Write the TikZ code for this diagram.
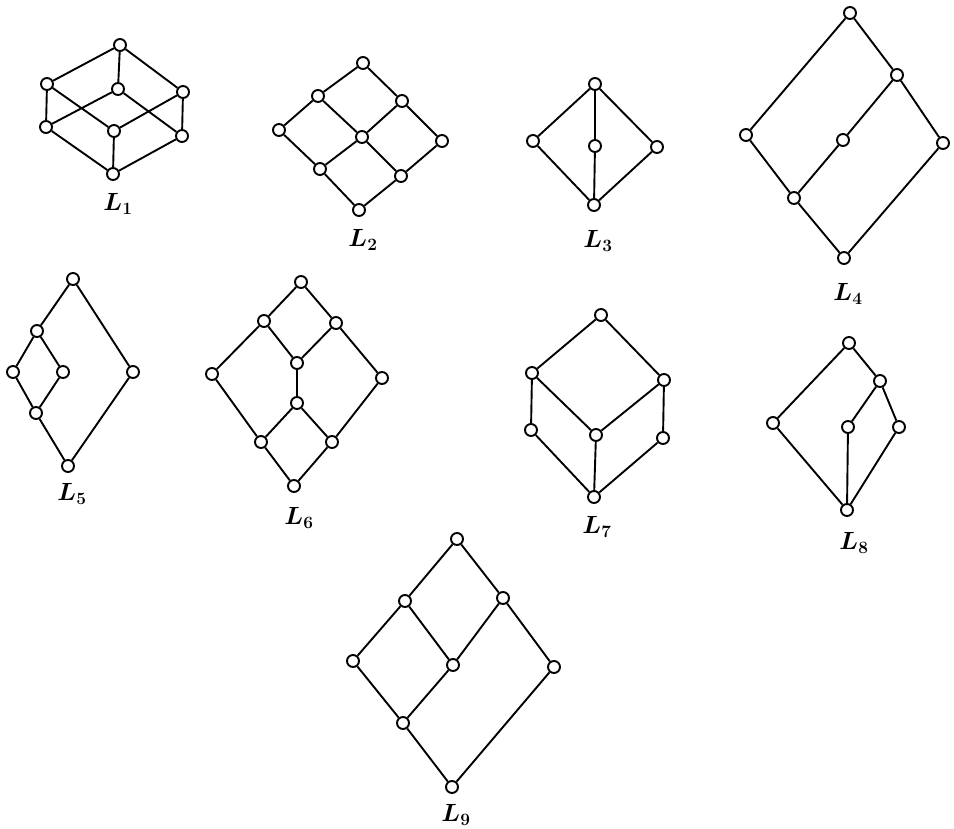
\documentclass[tikz,border=0pt]{standalone}
\usepackage{amsmath, amssymb}
\usepackage{tikz}
\usetikzlibrary{positioning}

\tikzset{
  vtx/.style={circle, draw, line width=1.9pt, fill=white, minimum size=12pt, inner sep=0pt},
  edge/.style={line width=1.9pt},
  lbl/.style={font=\fontsize{23}{26}\selectfont, inner sep=0pt}
}
\newcommand{\lname}[1]{$\boldsymbol{L}_{\mathbf{#1}}$}

\begin{document}
\begin{tikzpicture}[x=1pt, y=-1pt]
  \useasboundingbox (0,0) rectangle (954,829);
  % L1
  \node[vtx] (a1) at (120,45) {};
  \node[vtx] (a2) at (47,84) {};
  \node[vtx] (a3) at (118,89) {};
  \node[vtx] (a4) at (183,92) {};
  \node[vtx] (a5) at (46,127) {};
  \node[vtx] (a6) at (114,131) {};
  \node[vtx] (a7) at (182,136) {};
  \node[vtx] (a8) at (113,174) {};
  \draw[edge] (a1) -- (a2) (a1) -- (a3) (a1) -- (a4)
    (a2) -- (a5) (a2) -- (a6) (a3) -- (a5) (a3) -- (a7)
    (a4) -- (a6) (a4) -- (a7)
    (a5) -- (a8) (a6) -- (a8) (a7) -- (a8);
  \node[lbl] (n1) at (118,204) {\lname{1}};
  % L2
  \node[vtx] (b1) at (363,63) {};
  \node[vtx] (b2) at (318,96) {};
  \node[vtx] (b3) at (402,101) {};
  \node[vtx] (b4) at (279,130) {};
  \node[vtx] (b5) at (362,137) {};
  \node[vtx] (b6) at (442,141) {};
  \node[vtx] (b7) at (320,169) {};
  \node[vtx] (b8) at (401,176) {};
  \node[vtx] (b9) at (359,210) {};
  \draw[edge] (b1) -- (b2) (b1) -- (b3) (b2) -- (b4) (b2) -- (b5)
    (b3) -- (b5) (b3) -- (b6) (b4) -- (b7) (b5) -- (b7)
    (b5) -- (b8) (b6) -- (b8) (b7) -- (b9) (b8) -- (b9);
  \node[lbl] (n2) at (363,240) {\lname{2}};
  % L3
  \node[vtx] (c1) at (595,84) {};
  \node[vtx] (c2) at (533,141) {};
  \node[vtx] (c3) at (595,146) {};
  \node[vtx] (c4) at (657,147) {};
  \node[vtx] (c5) at (594,205) {};
  \draw[edge] (c1) -- (c2) (c1) -- (c3) (c1) -- (c4)
    (c2) -- (c5) (c3) -- (c5) (c4) -- (c5);
  \node[lbl] (n3) at (598,241) {\lname{3}};
  % L4
  \node[vtx] (d1) at (850,13) {};
  \node[vtx] (d2) at (897,75) {};
  \node[vtx] (d3) at (746,135) {};
  \node[vtx] (d4) at (843,140) {};
  \node[vtx] (d5) at (943,143) {};
  \node[vtx] (d6) at (794,198) {};
  \node[vtx] (d7) at (844,258) {};
  \draw[edge] (d1) -- (d3) (d1) -- (d2) (d2) -- (d4) (d2) -- (d5)
    (d3) -- (d6) (d4) -- (d6) (d6) -- (d7) (d5) -- (d7);
  \node[lbl] (n4) at (848,294) {\lname{4}};
  % L5
  \node[vtx] (e1) at (73,279) {};
  \node[vtx] (e2) at (37,331) {};
  \node[vtx] (e3) at (13,372) {};
  \node[vtx] (e4) at (63,372) {};
  \node[vtx] (e5) at (133,372) {};
  \node[vtx] (e6) at (36,413) {};
  \node[vtx] (e7) at (68,466) {};
  \draw[edge] (e1) -- (e2) (e1) -- (e5) (e2) -- (e3) (e2) -- (e4)
    (e3) -- (e6) (e4) -- (e6) (e6) -- (e7) (e5) -- (e7);
  \node[lbl] (n5) at (72,494) {\lname{5}};
  % L6
  \node[vtx] (f1) at (301,282) {};
  \node[vtx] (f2) at (264,321) {};
  \node[vtx] (f3) at (336,323) {};
  \node[vtx] (f4) at (212,374) {};
  \node[vtx] (f5) at (297,363) {};
  \node[vtx] (f6) at (382,378) {};
  \node[vtx] (f7) at (297,403) {};
  \node[vtx] (f8) at (261,442) {};
  \node[vtx] (f9) at (332,442) {};
  \node[vtx] (f10) at (294,486) {};
  \draw[edge] (f1) -- (f2) (f1) -- (f3) (f2) -- (f4) (f2) -- (f5)
    (f3) -- (f5) (f3) -- (f6) (f5) -- (f7) (f4) -- (f8)
    (f7) -- (f8) (f7) -- (f9) (f6) -- (f9) (f8) -- (f10) (f9) -- (f10);
  \node[lbl] (n6) at (299,518) {\lname{6}};
  % L7
  \node[vtx] (g1) at (601,315) {};
  \node[vtx] (g2) at (532,373) {};
  \node[vtx] (g3) at (664,380) {};
  \node[vtx] (g4) at (531,430) {};
  \node[vtx] (g5) at (596,435) {};
  \node[vtx] (g6) at (663,438) {};
  \node[vtx] (g7) at (594,497) {};
  \draw[edge] (g1) -- (g2) (g1) -- (g3) (g2) -- (g5) (g3) -- (g5)
    (g2) -- (g4) (g3) -- (g6) (g4) -- (g7) (g5) -- (g7) (g6) -- (g7);
  \node[lbl] (n7) at (597,527) {\lname{7}};
  % L8
  \node[vtx] (h1) at (849,343) {};
  \node[vtx] (h2) at (880,381) {};
  \node[vtx] (h3) at (773,423) {};
  \node[vtx] (h4) at (848,427) {};
  \node[vtx] (h5) at (899,427) {};
  \node[vtx] (h6) at (847,510) {};
  \draw[edge] (h1) -- (h3) (h1) -- (h2) (h2) -- (h4) (h2) -- (h5)
    (h3) -- (h6) (h4) -- (h6) (h5) -- (h6);
  \node[lbl] (n8) at (854,543) {\lname{8}};
  % L9
  \node[vtx] (k1) at (457,539) {};
  \node[vtx] (k2) at (405,601) {};
  \node[vtx] (k3) at (503,598) {};
  \node[vtx] (k4) at (353,661) {};
  \node[vtx] (k5) at (453,665) {};
  \node[vtx] (k6) at (554,667) {};
  \node[vtx] (k7) at (403,723) {};
  \node[vtx] (k8) at (452,787) {};
  \draw[edge] (k1) -- (k2) (k1) -- (k3) (k2) -- (k4) (k2) -- (k5)
    (k3) -- (k5) (k3) -- (k6) (k4) -- (k7) (k5) -- (k7)
    (k7) -- (k8) (k6) -- (k8);
  \node[lbl] (n9) at (456,815) {\lname{9}};
\end{tikzpicture}
\end{document}
